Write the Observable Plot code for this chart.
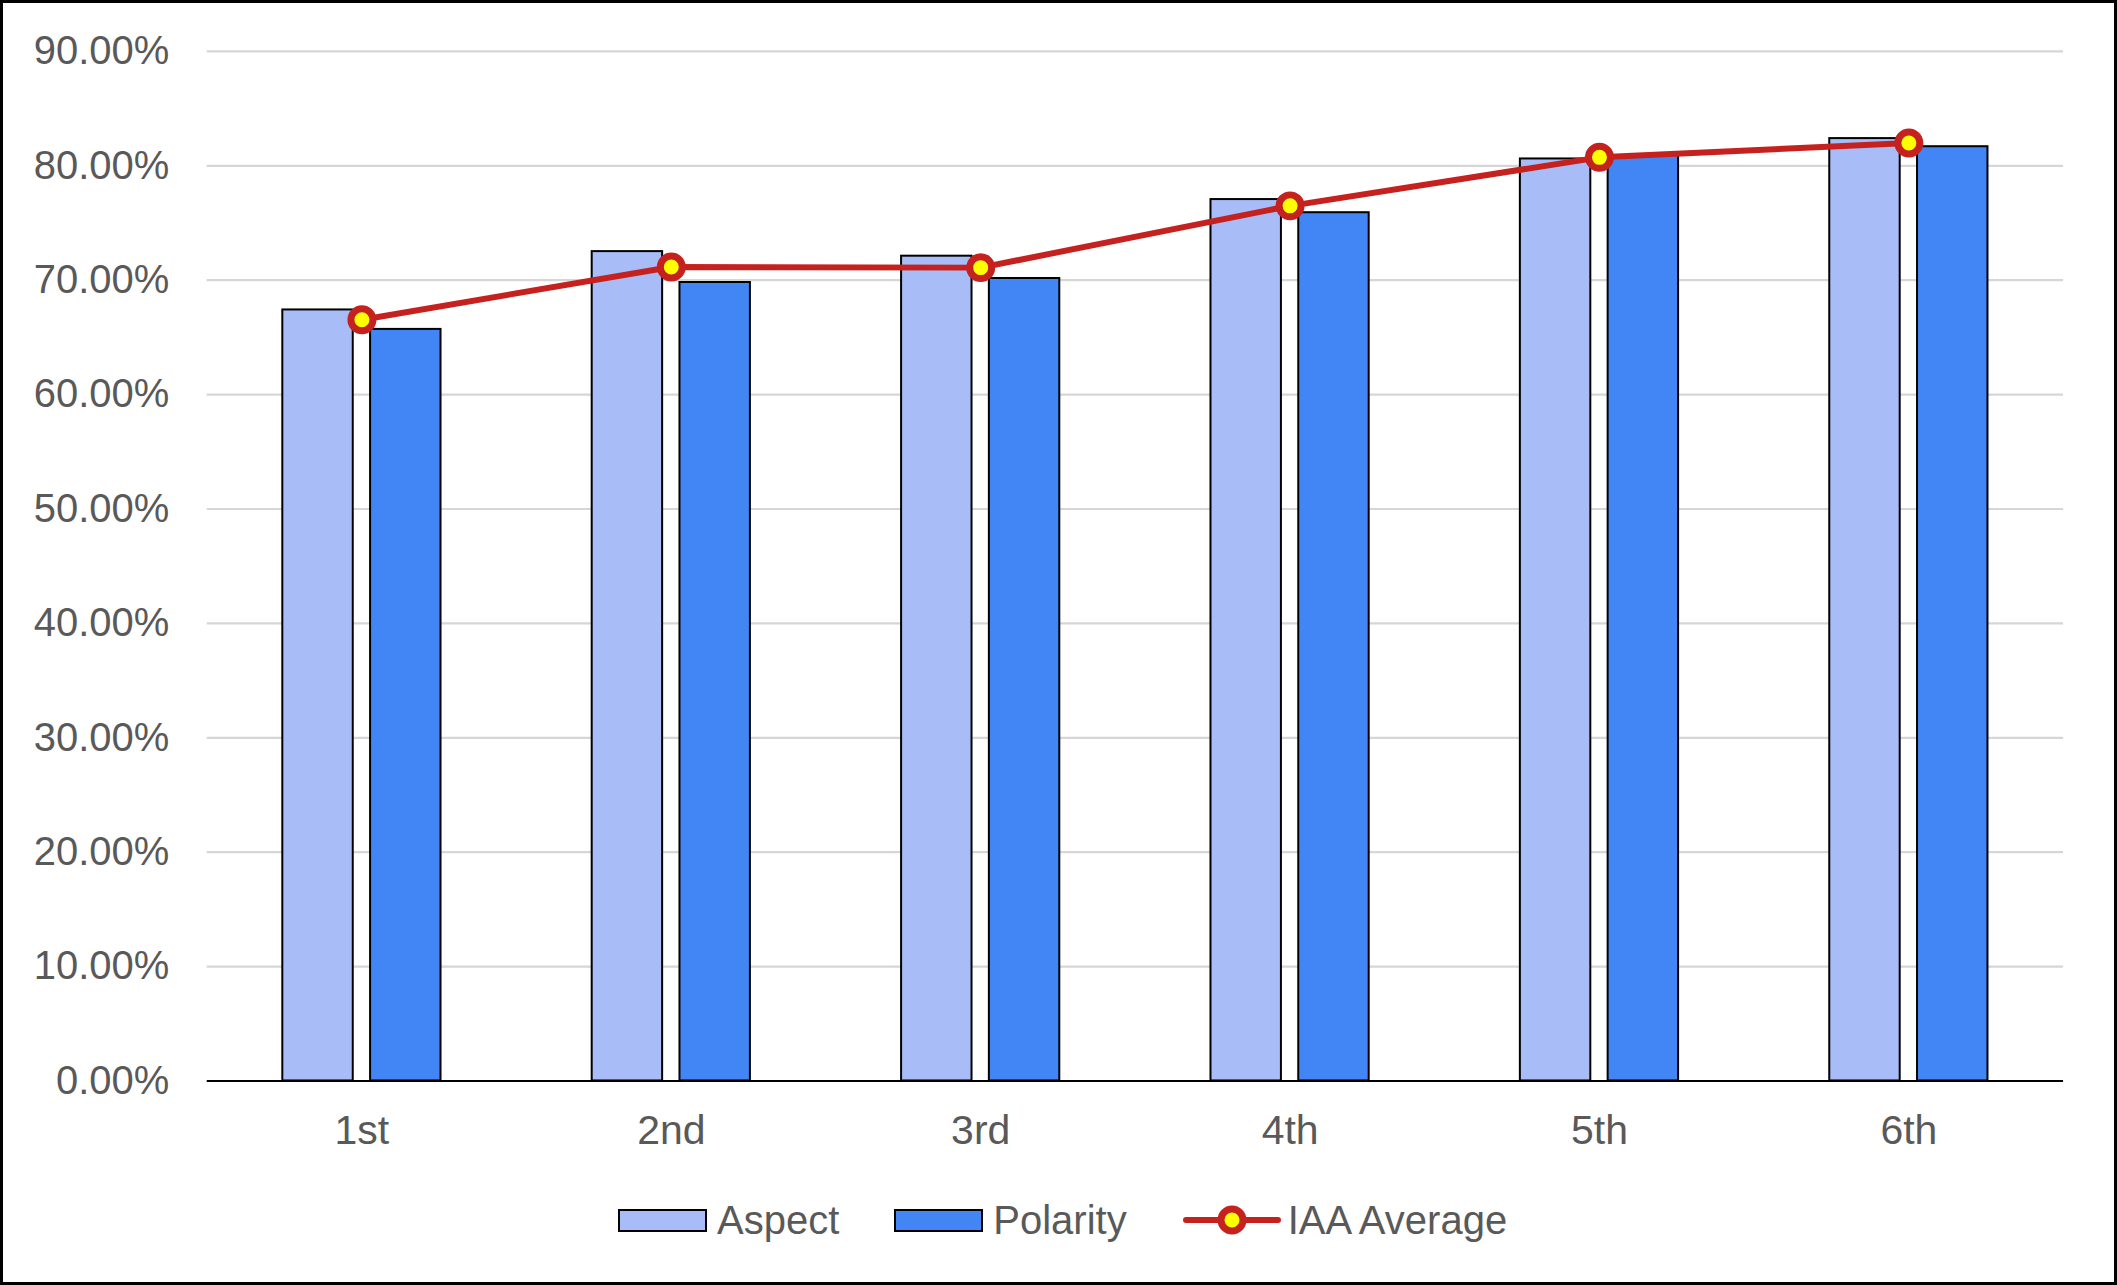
<!DOCTYPE html>
<html>
<head>
<meta charset="utf-8">
<script src="https://cdn.jsdelivr.net/npm/d3@7"></script>
<script src="https://cdn.jsdelivr.net/npm/@observablehq/plot@0.6"></script>
<style>
  html, body { margin: 0; padding: 0; background: #fff; }
  #frame { position: relative; width: 2117px; height: 1285px; box-sizing: border-box; border: 3px solid #000; overflow: hidden; font-family: "Liberation Sans", Arial, sans-serif; }
  #chart { position: absolute; left: -3px; top: -3px; }
  #legend { position: absolute; left: 615px; top: 1187px; height: 60px; display: flex; align-items: center; font-size: 40px; color: #595959; font-family: "Liberation Sans", Arial, sans-serif; }
  .item { display: flex; align-items: center; }
  .swatch { width: 89px; height: 23px; box-sizing: border-box; border: 2px solid #000; margin-right: 10px; }
</style>
</head>
<body>
<div id="frame">
  <div id="chart"></div>
  <div id="legend"></div>
</div>
<script>
const categories = ["1st", "2nd", "3rd", "4th", "5th", "6th"];
const aspect = [0.674, 0.725, 0.721, 0.7705, 0.806, 0.8238];
const polarity = [0.657, 0.698, 0.7015, 0.759, 0.809, 0.8167];
const iaaAverage = [0.6655, 0.7115, 0.711, 0.765, 0.8074, 0.820];
const yTicks = [0, 0.1, 0.2, 0.3, 0.4, 0.5, 0.6, 0.7, 0.8, 0.9];
const seriesNames = ["Aspect", "Polarity", "IAA Average"];
const colors = { Aspect: "#a8bdf8", Polarity: "#4285f4", line: "#c5221f", marker: "#ffff00" };

const aspectData = categories.map((c, i) => ({ category: c, value: aspect[i] }));
const polarityData = categories.map((c, i) => ({ category: c, value: polarity[i] }));
const avgData = categories.map((c, i) => ({ category: c, value: iaaAverage[i] }));

const chart = Plot.plot({
  width: 2117,
  height: 1170,
  marginLeft: 207,
  marginRight: 51,
  marginTop: 51,
  marginBottom: 88,
  style: { fontFamily: "'Liberation Sans', Arial, sans-serif", fontSize: "41px", color: "#595959", background: "transparent" },
  x: { domain: categories, padding: 0, round: false, label: null },
  y: { domain: [0, 0.9], label: null },
  marks: [
    Plot.gridY(yTicks.slice(1), { stroke: "#d6d6d6", strokeOpacity: 1, strokeWidth: 2.2 }),
    Plot.barY(aspectData, { x: "category", y: "value", fill: colors.Aspect, stroke: "#000", strokeWidth: 2, insetLeft: 75.7, insetRight: 163.6 }),
    Plot.barY(polarityData, { x: "category", y: "value", fill: colors.Polarity, stroke: "#000", strokeWidth: 2, insetLeft: 163.6, insetRight: 75.7 }),
    Plot.ruleY([0], { stroke: "#000", strokeWidth: 2 }),
    Plot.line(avgData, { x: "category", y: "value", stroke: colors.line, strokeWidth: 6 }),
    Plot.dot(avgData, { x: "category", y: "value", r: 11, fill: colors.marker, stroke: colors.line, strokeWidth: 7 }),
    Plot.axisY(yTicks, { tickFormat: d3.format(".2%"), tickSize: 0, tickPadding: 38, fontSize: 40, label: null }),
    Plot.axisX({ tickSize: 0, tickPadding: 34, fontSize: 41, label: null })
  ]
});
document.getElementById("chart").appendChild(chart);

// Legend
const legend = document.getElementById("legend");
seriesNames.forEach((name, i) => {
  const item = document.createElement("div");
  item.className = "item";
  if (i > 0) item.style.marginLeft = "55px";
  if (name === "IAA Average") {
    const ns = "http://www.w3.org/2000/svg";
    const svg = document.createElementNS(ns, "svg");
    svg.setAttribute("width", "100");
    svg.setAttribute("height", "32");
    svg.style.marginRight = "6px";
    const ln = document.createElementNS(ns, "line");
    ln.setAttribute("x1", "4"); ln.setAttribute("x2", "96");
    ln.setAttribute("y1", "16"); ln.setAttribute("y2", "16");
    ln.setAttribute("stroke", colors.line); ln.setAttribute("stroke-width", "6");
    ln.setAttribute("stroke-linecap", "round");
    const ci = document.createElementNS(ns, "circle");
    ci.setAttribute("cx", "50"); ci.setAttribute("cy", "16"); ci.setAttribute("r", "11");
    ci.setAttribute("fill", colors.marker); ci.setAttribute("stroke", colors.line); ci.setAttribute("stroke-width", "7");
    svg.appendChild(ln); svg.appendChild(ci);
    item.appendChild(svg);
  } else {
    const sw = document.createElement("div");
    sw.className = "swatch";
    sw.style.background = colors[name];
    item.appendChild(sw);
  }
  const label = document.createElement("span");
  label.textContent = name;
  item.appendChild(label);
  legend.appendChild(item);
});
</script>
</body>
</html>
